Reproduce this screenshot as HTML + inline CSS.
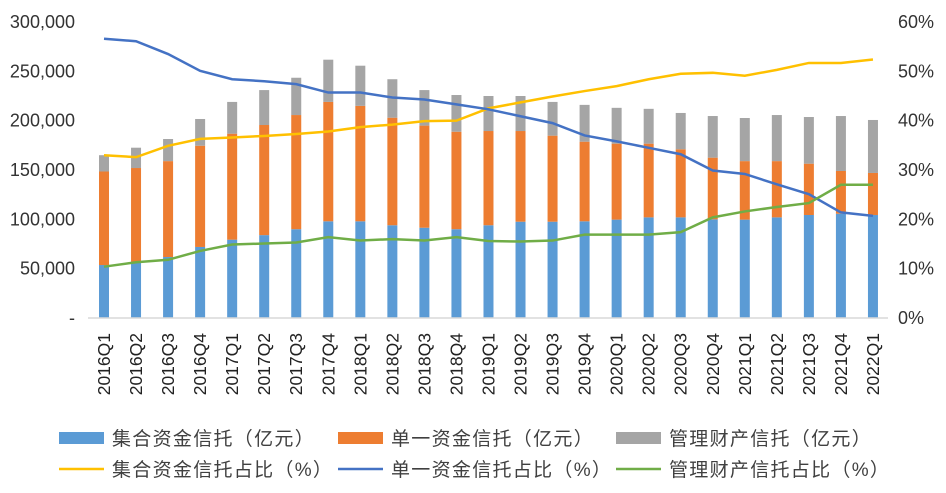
<!DOCTYPE html>
<html><head><meta charset="utf-8"><style>
body{margin:0;background:#fff;font-family:"Liberation Sans","Noto Sans CJK SC",sans-serif;}
svg text{font-family:"Liberation Sans","Noto Sans CJK SC",sans-serif;}
</style></head><body>
<svg id="c" width="946" height="488" xmlns="http://www.w3.org/2000/svg"></svg>
<script>
const categories=["2016Q1","2016Q2","2016Q3","2016Q4","2017Q1","2017Q2","2017Q3","2017Q4","2018Q1","2018Q2","2018Q3","2018Q4","2019Q1","2019Q2","2019Q3","2019Q4","2020Q1","2020Q2","2020Q3","2020Q4","2021Q1","2021Q2","2021Q3","2021Q4","2022Q1"];
const collective=[53700,57000,61800,72000,79400,84000,90000,98000,98000,94000,91500,90000,94000,97600,97600,98000,99700,102000,102000,100000,99700,102000,104400,105700,104400];
const single=[94800,95000,97200,102600,107400,111600,115700,121000,117000,109000,103500,98800,95500,91900,87200,80700,77000,74700,69000,62500,59300,57000,52000,43300,42600];
const managed=[16500,20600,22400,27100,32200,35400,37800,42800,40700,39000,36000,37200,35500,35500,34200,37300,36300,35300,36800,42200,43700,46700,47300,55700,53700];
const collectivePct=[33,32.6,34.9,36.3,36.6,36.9,37.3,37.8,38.7,39.2,39.9,40,42.5,43.7,44.9,46,47,48.4,49.5,49.7,49.1,50.3,51.7,51.7,52.4];
const singlePct=[56.6,56.1,53.5,50.1,48.4,48,47.4,45.7,45.7,44.7,44.3,43.3,42.3,40.9,39.5,37,35.8,34.5,33.2,29.9,29.2,27.1,25.1,21.4,20.7];
const managedPct=[10.4,11.3,11.8,13.6,14.9,15.1,15.3,16.4,15.7,16,15.7,16.4,15.6,15.5,15.7,16.9,16.9,16.9,17.4,20.4,21.6,22.5,23.3,27,27];
const leftTicks=[0,50000,100000,150000,200000,250000,300000];
const leftTickLabels=["-","50,000","100,000","150,000","200,000","250,000","300,000"];
const rightTicks=[0,10,20,30,40,50,60];
const rightTickLabels=["0%","10%","20%","30%","40%","50%","60%"];

const svg=document.getElementById('c');const NS="http://www.w3.org/2000/svg";
const y0=318,yTop=22;
const yL=v=>y0-(v/300000)*(y0-yTop);
const yR=v=>y0-(v/60)*(y0-yTop);
const xC=i=>104+i*32.04;
function mk(t,a,p){const e=document.createElementNS(NS,t);for(const k in a)e.setAttribute(k,a[k]);(p||svg).appendChild(e);return e;}
const g=mk('g',{});


leftTicks.forEach((v,i)=>{const t=mk('text',{x:75,y:yL(v)+6,'text-anchor':'end','font-size':18,fill:'#333'});t.textContent=leftTickLabels[i];

});
rightTicks.forEach((v,i)=>{const t=mk('text',{x:898,y:yR(v)+6,'font-size':18,fill:'#333'});t.textContent=rightTickLabels[i];

});
const series=[[collective,'#5b9bd5','bar-collective'],[single,'#ed7d31','bar-single'],[managed,'#a5a5a5','bar-managed']];
categories.forEach((c,i)=>{let base=0;series.forEach(s=>{const v=s[0][i];const r=mk('rect',{x:xC(i)-5,y:yL(base+v),width:10,height:yL(base)-yL(base+v),fill:s[1]},g);

base+=v;});
const t=mk('text',{transform:`translate(${xC(i)+6},333) rotate(-90)`,'text-anchor':'end','font-size':17.5,fill:'#222'});t.textContent=c;

});
const ax=mk('line',{x1:88,x2:888,y1:y0,y2:y0,stroke:'#d9d9d9','stroke-width':1.5});


[[collectivePct,'#ffc000','line-collective-pct'],[singlePct,'#4472c4','line-single-pct'],[managedPct,'#70ad47','line-managed-pct']].forEach(s=>{
const p=mk('polyline',{points:s[0].map((v,i)=>xC(i)+','+yR(v)).join(' '),fill:'none',stroke:s[1],'stroke-width':2.5});

});
const leg=[["集合资金信托（亿元）",'#5b9bd5',0,59,432,'rect'],["单一资金信托（亿元）",'#ed7d31',0,338,432,'rect'],["管理财产信托（亿元）",'#a5a5a5',0,616,432,'rect'],
["集合资金信托占比（%）",'#ffc000',1,59,469,'line'],["单一资金信托占比（%）",'#4472c4',1,338,469,'line'],["管理财产信托占比（%）",'#70ad47',1,616,469,'line']];
leg.forEach(l=>{const gg=mk('g',{});


if(l[5]=='rect')mk('rect',{x:l[3],y:l[4],width:45,height:12,fill:l[1]},gg);
else mk('line',{x1:l[3],x2:l[3]+45,y1:l[4],y2:l[4],stroke:l[1],'stroke-width':2.5},gg);
const t=mk('text',{x:l[3]+53,y:l[4]+(l[5]=='rect'?13:7),'font-size':19,'letter-spacing':1.3,fill:'#404040'},gg);t.textContent=l[0];});
</script>
</body></html>
